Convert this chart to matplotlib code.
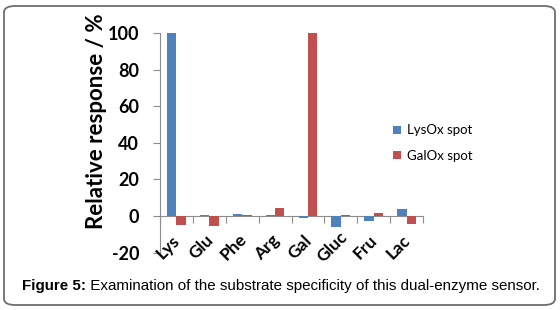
import matplotlib
matplotlib.use("Agg")
import matplotlib.pyplot as plt
import numpy as np
from matplotlib.patches import FancyBboxPatch

categories = ["Lys", "Glu", "Phe", "Arg", "Gal", "Gluc", "Fru", "Lac"]
lysox = [100, 0.5, 1.3, 0.3, -0.9, -6.0, -2.7, 3.8]
galox = [-4.9, -5.3, 0.7, 4.6, 100, 0.7, 1.6, -4.2]
yticks = [-20, 0, 20, 40, 60, 80, 100]
series_names = ["LysOx spot", "GalOx spot"]

BLUE = "#4F81BD"
RED = "#C0504D"
AX = "#8C8C8C"
FONT = "Lato"

fig = plt.figure(figsize=(5.6, 3.1), dpi=100)
ax = fig.add_axes([160/560, 1-252.6/310, (423-160)/560, (252.6-33)/310])

x = np.arange(len(categories))
w = 0.285
ax.bar(x - w/2, lysox, width=w, color=BLUE, label=series_names[0], zorder=3)
ax.bar(x + w/2, galox, width=w, color=RED, label=series_names[1], zorder=3)

ax.set_xlim(-0.5, len(categories) - 0.5)
ax.set_ylim(-20.01, 100.01)
ax.set_yticks(yticks)
ax.yaxis.set_major_formatter(matplotlib.ticker.FuncFormatter(lambda v, p: "%d" % round(v)))
for lab in ax.get_yticklabels():
    lab.set_fontfamily(FONT)
    lab.set_fontweight("bold")
    lab.set_fontsize(13)

for s in ["top", "right"]:
    ax.spines[s].set_visible(False)
ax.spines["left"].set_color(AX)
ax.spines["left"].set_bounds(-20, 100)
ax.spines["bottom"].set_color(AX)
ax.spines["bottom"].set_position(("data", 0))
ax.tick_params(axis="y", direction="out", length=5, color=AX, pad=10, labelsize=13)
ax.set_xticks(np.arange(len(categories) + 1) - 0.5)
ax.set_xticklabels([])
ax.tick_params(axis="x", direction="out", length=5, color=AX)

for i, c in enumerate(categories):
    ax.text(i - 0.25, -17.0, c, rotation=45, ha="center", va="center",
            fontfamily=FONT, fontweight="bold", fontsize=12.5)

ax.set_ylabel("Relative response / %", fontfamily=FONT, fontweight="bold", fontsize=16)
ax.yaxis.set_label_coords(-(160 - 107) / 263, (252.6 - 121) / 219.6)

ax.legend(loc="center left", bbox_to_anchor=(381/560, 1-143/310), bbox_transform=fig.transFigure,
          frameon=False, handlelength=0.6, handleheight=0.6, handletextpad=0.5,
          labelspacing=1.0, prop={"family": FONT, "size": 9.5})

t1 = fig.text(22/560, 1-286/310, "Figure 5:", fontfamily="Liberation Sans", fontweight="bold",
              fontsize=10.9, va="center", ha="left")
ax.annotate(" Examination of the substrate specificity of this dual-enzyme sensor.", xy=(1, 0.5),
            xycoords=t1, va="center", ha="left", fontfamily="Liberation Sans", fontsize=10.9,
            annotation_clip=False)

box = FancyBboxPatch((4/560, 5/310), 551/560, 299/310, boxstyle="round,pad=0,rounding_size=0.02",
                     transform=fig.transFigure, fill=False, edgecolor="#6E6E6E", linewidth=1.3)
fig.patches.append(box)

fig.savefig("out.png", dpi=100)
